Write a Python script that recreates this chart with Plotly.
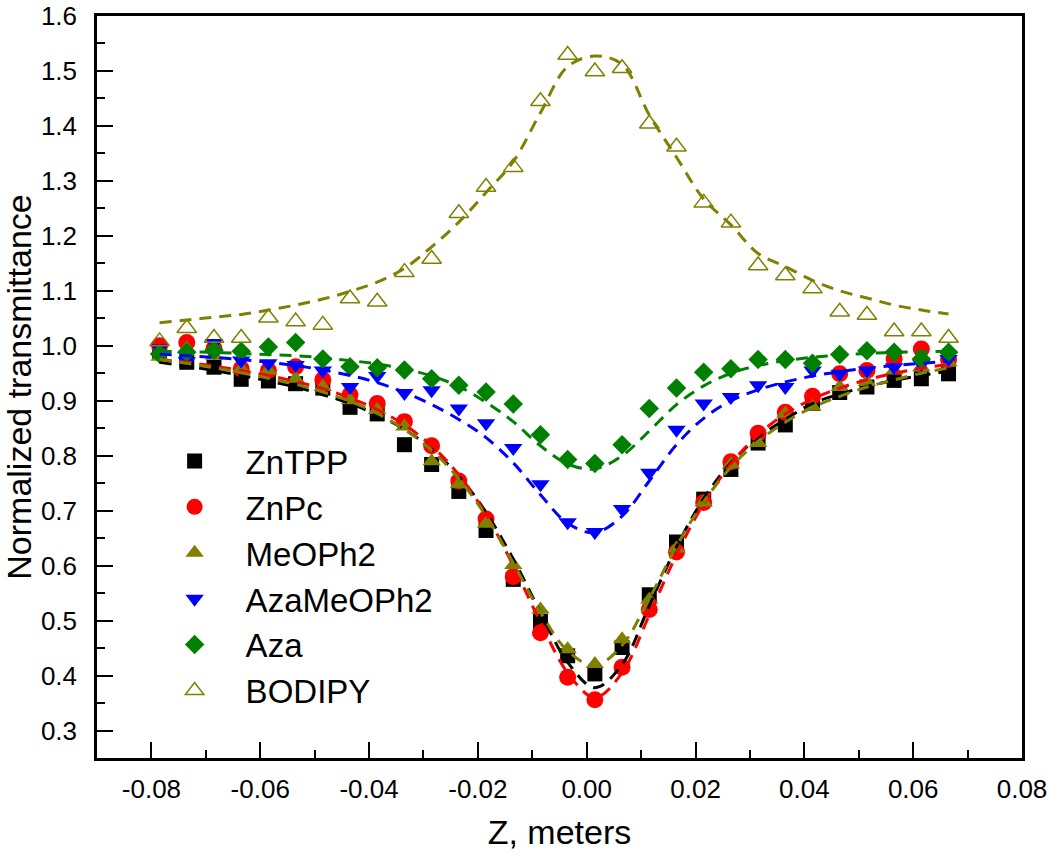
import plotly.graph_objects as go

z = [-0.0785, -0.0735, -0.0685, -0.0635, -0.0585, -0.0535, -0.0485, -0.0435, -0.0385, -0.0335,
     -0.0285, -0.0235, -0.0185, -0.0135, -0.0085, -0.0035, 0.0015, 0.0065, 0.0115, 0.0165,
     0.0215, 0.0265, 0.0315, 0.0365, 0.0415, 0.0465, 0.0515, 0.0565, 0.0615, 0.0665]

zntpp = [0.99, 0.970, 0.961, 0.939, 0.936, 0.931, 0.923, 0.888, 0.876, 0.820,
         0.784, 0.735, 0.664, 0.575, 0.499, 0.436, 0.403, 0.451, 0.547, 0.643,
         0.721, 0.775, 0.823, 0.856, 0.895, 0.915, 0.925, 0.937, 0.940, 0.949]
znpc = [1.0, 1.006, 0.995, 0.958, 0.955, 0.962, 0.938, 0.911, 0.895, 0.862,
        0.818, 0.754, 0.685, 0.580, 0.478, 0.397, 0.356, 0.415, 0.520, 0.625,
        0.715, 0.789, 0.841, 0.879, 0.908, 0.949, 0.955, 0.976, 0.994, 0.975]
meoph2 = [0.98, 0.995, 0.982, 0.958, 0.955, 0.940, 0.925, 0.901, 0.883, 0.853,
          0.790, 0.748, 0.676, 0.601, 0.520, 0.448, 0.421, 0.466, 0.538, 0.631,
          0.715, 0.784, 0.823, 0.877, 0.889, 0.925, 0.934, 0.955, 0.961, 0.970]
azameoph2 = [0.995, 0.972, 1.005, 0.973, 0.968, 0.965, 0.955, 0.925, 0.945, 0.914,
             0.919, 0.886, 0.859, 0.814, 0.748, 0.679, 0.661, 0.703, 0.769, 0.847,
             0.895, 0.907, 0.928, 0.925, 0.955, 0.949, 0.955, 0.961, 0.967, 0.976]
aza = [0.985, 0.988, 0.992, 0.990, 0.998, 1.006, 0.976, 0.962, 0.960, 0.956,
       0.940, 0.928, 0.916, 0.894, 0.838, 0.793, 0.786, 0.820, 0.886, 0.923,
       0.952, 0.958, 0.975, 0.975, 0.968, 0.984, 0.991, 0.988, 0.976, 0.988]
bodipy = [1.008, 1.032, 1.014, 1.014, 1.051, 1.044, 1.038, 1.086, 1.080, 1.134,
          1.158, 1.241, 1.289, 1.325, 1.445, 1.529, 1.499, 1.505, 1.404, 1.362,
          1.260, 1.224, 1.146, 1.128, 1.104, 1.062, 1.056, 1.026, 1.026, 1.014]

fit_zntpp = [0.970, 0.963, 0.955, 0.946, 0.936, 0.925, 0.911, 0.895, 0.874, 0.848,
             0.812, 0.763, 0.697, 0.612, 0.515, 0.424, 0.378, 0.420, 0.527, 0.634,
             0.722, 0.787, 0.833, 0.866, 0.895, 0.912, 0.926, 0.937, 0.946, 0.954]
fit_znpc = [0.975, 0.970, 0.963, 0.955, 0.946, 0.935, 0.922, 0.905, 0.884, 0.856,
            0.818, 0.765, 0.693, 0.600, 0.497, 0.405, 0.360, 0.405, 0.510, 0.620,
            0.713, 0.785, 0.838, 0.876, 0.903, 0.923, 0.938, 0.950, 0.959, 0.966]
fit_meoph2 = [0.975, 0.968, 0.960, 0.951, 0.941, 0.930, 0.916, 0.899, 0.877, 0.848,
              0.810, 0.758, 0.690, 0.605, 0.515, 0.445, 0.418, 0.455, 0.540, 0.635,
              0.716, 0.779, 0.826, 0.861, 0.888, 0.908, 0.925, 0.938, 0.950, 0.960]
fit_azameoph2 = [0.985, 0.982, 0.979, 0.975, 0.970, 0.964, 0.956, 0.946, 0.933, 0.915,
                 0.893, 0.866, 0.833, 0.787, 0.729, 0.677, 0.660, 0.690, 0.754, 0.820,
                 0.868, 0.900, 0.920, 0.934, 0.945, 0.953, 0.959, 0.964, 0.968, 0.972]
fit_aza = [0.990, 0.989, 0.988, 0.986, 0.984, 0.982, 0.978, 0.973, 0.967, 0.958,
           0.945, 0.926, 0.897, 0.862, 0.818, 0.785, 0.776, 0.800, 0.845, 0.893,
           0.927, 0.950, 0.964, 0.973, 0.979, 0.983, 0.986, 0.988, 0.989, 0.990]
fit_bodipy = [1.042, 1.047, 1.052, 1.057, 1.065, 1.074, 1.085, 1.099, 1.116, 1.141,
              1.180, 1.225, 1.279, 1.335, 1.424, 1.508, 1.527, 1.512, 1.420, 1.343,
              1.267, 1.220, 1.168, 1.144, 1.119, 1.100, 1.087, 1.074, 1.065, 1.058]

x_tickvals = [-0.08, -0.06, -0.04, -0.02, 0.0, 0.02, 0.04, 0.06, 0.08]
x_ticktext = ["-0.08", "-0.06", "-0.04", "-0.02", "0.00", "0.02", "0.04", "0.06", "0.08"]
y_tickvals = [0.3, 0.4, 0.5, 0.6, 0.7, 0.8, 0.9, 1.0, 1.1, 1.2, 1.3, 1.4, 1.5, 1.6]
y_ticktext = ["0.3", "0.4", "0.5", "0.6", "0.7", "0.8", "0.9", "1.0", "1.1", "1.2", "1.3", "1.4", "1.5", "1.6"]

OLIVE = "#808000"
series = [
    ("ZnTPP", zntpp, fit_zntpp, "black", "square", 15, "black"),
    ("ZnPc", znpc, fit_znpc, "red", "circle", 17, "red"),
    ("MeOPh2", meoph2, fit_meoph2, OLIVE, "triangle-up", 16, OLIVE),
    ("AzaMeOPh2", azameoph2, fit_azameoph2, "blue", "triangle-down", 16, "blue"),
    ("Aza", aza, fit_aza, "green", "diamond", 15, "green"),
    ("BODIPY", bodipy, fit_bodipy, OLIVE, "triangle-up-open", 17, OLIVE),
]

fig = go.Figure()
for name, vals, fit, color, sym, size, lc in series:
    mk = dict(symbol=sym, size=size, color=color)
    if sym.endswith("open"):
        mk["line"] = dict(width=1.5, color=color)
    else:
        mk["line"] = dict(width=0)
    fig.add_trace(go.Scatter(x=z, y=vals, mode="markers", name=name, marker=mk))
for name, vals, fit, color, sym, size, lc in series:
    fig.add_trace(go.Scatter(x=z, y=fit, mode="lines", showlegend=False,
                             line=dict(color=lc, width=3, dash="12px,8px", shape="spline")))

FONT = "Liberation Sans, Arial"
axis_common = dict(showline=True, linewidth=2.5, linecolor="black", mirror=True,
                   ticks="inside", ticklen=16, tickwidth=2, tickcolor="black",
                   showgrid=False, zeroline=False, automargin=False,
                   ticklabeloverflow="allow",
                   tickfont=dict(family=FONT, size=26, color="black"))
fig.update_xaxes(range=[-0.09, 0.08], tickmode="array", tickvals=x_tickvals, ticktext=x_ticktext,
                 minor=dict(ticks="inside", ticklen=8, tickwidth=2, tickcolor="black",
                            tickmode="linear", tick0=-0.09, dtick=0.01),
                 ticklabelstandoff=6,
                 title=dict(text="Z, meters", font=dict(family=FONT, size=34, color="black"), standoff=18),
                 **axis_common)
fig.update_yaxes(range=[0.25, 1.6], tickmode="array", tickvals=y_tickvals, ticktext=y_ticktext,
                 minor=dict(ticks="inside", ticklen=8, tickwidth=2, tickcolor="black",
                            tickmode="linear", tick0=0.25, dtick=0.05),
                 ticklabelstandoff=12,
                 title=dict(text="Normalized transmittance", font=dict(family="Liberation Sans Narrow, Arial Narrow, Liberation Sans", size=34, color="black"), standoff=8),
                 **axis_common)
fig.update_layout(
    width=1050, height=858,
    margin=dict(l=97, r=28, t=16, b=100),
    plot_bgcolor="white", paper_bgcolor="white",
    showlegend=True,
    legend=dict(x=0.0504, y=0.438, xanchor="left", yanchor="top", bgcolor="rgba(0,0,0,0)",
                font=dict(family=FONT, size=33, color="black"),
                itemwidth=92, tracegroupgap=0),
)
fig.write_html("out.html", config={"displayModeBar": False},
               post_script="document.body.style.margin='0';document.body.style.overflow='hidden';")
